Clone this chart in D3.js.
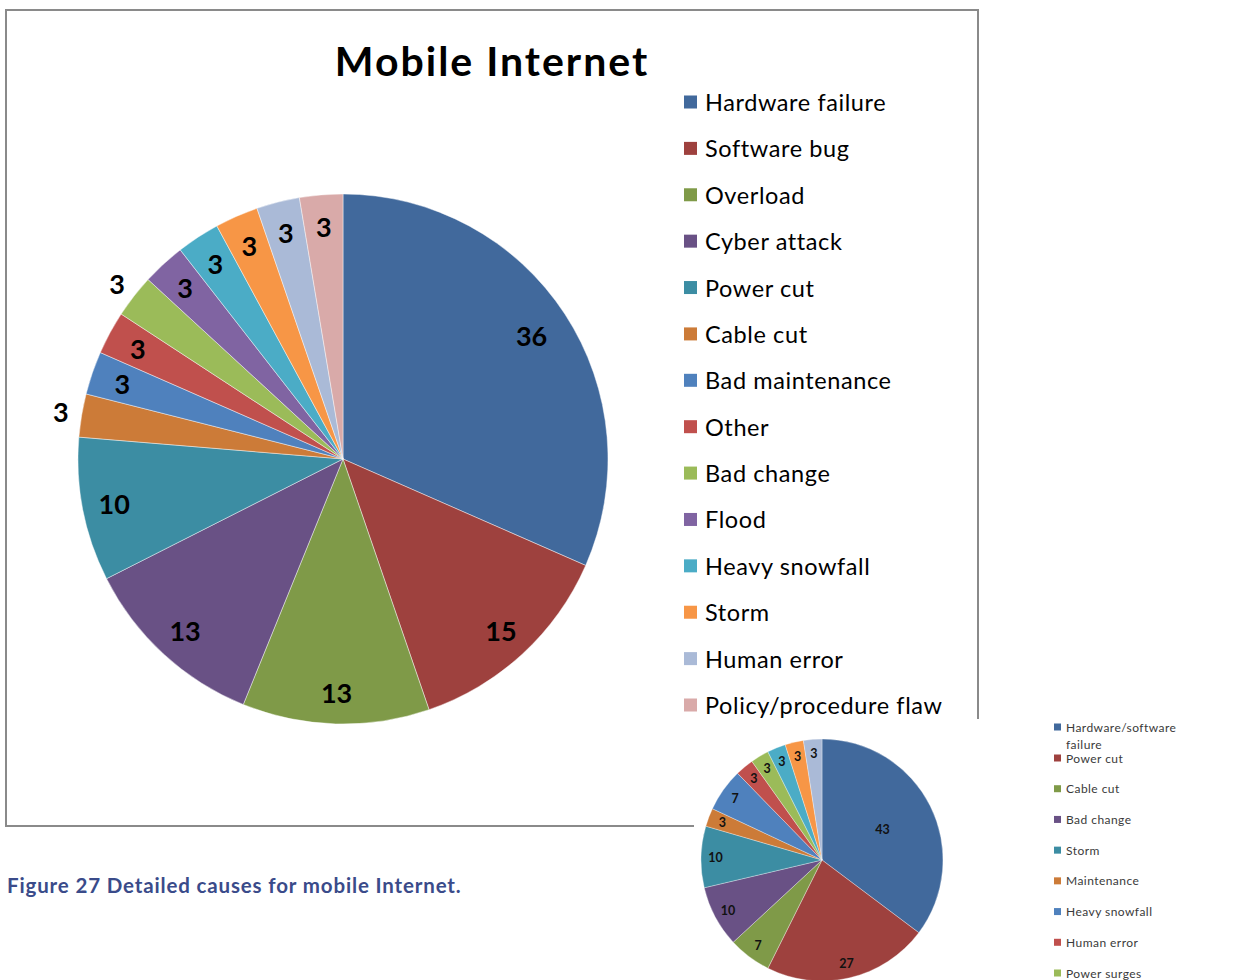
<!DOCTYPE html>
<html>
<head>
<meta charset="utf-8">
<script src="https://cdn.jsdelivr.net/npm/d3@7"></script>
<style>
  html, body { margin: 0; padding: 0; background: #fff; }
  svg { display: block; }
</style>
</head>
<body>
<svg id="chart" width="1244" height="980"></svg>
<script>
// Mobile Internet: incident counts per detailed cause
const mainCategories = ["Hardware failure", "Software bug", "Overload", "Cyber attack", "Power cut",
  "Cable cut", "Bad maintenance", "Other", "Bad change", "Flood", "Heavy snowfall", "Storm",
  "Human error", "Policy/procedure flaw"];
const mainValues = [36, 15, 13, 13, 10, 3, 3, 3, 3, 3, 3, 3, 3, 3];
const mainColors = ["#41699C", "#9E413E", "#7F9A48", "#695185", "#3C8DA3", "#CC7B38", "#4F81BD",
  "#C0504D", "#9BBB59", "#8064A2", "#4BACC6", "#F79646", "#AABAD7", "#D9AAA9"];

// Second, smaller breakdown (legend continues past the page edge)
const smallCategories = ["Hardware/software failure", "Power cut", "Cable cut", "Bad change", "Storm",
  "Maintenance", "Heavy snowfall", "Human error", "Power surges"];
const smallValues = [43, 27, 7, 10, 10, 3, 7, 3, 3, 3, 3, 3];
const smallColors = ["#41699C", "#9E413E", "#7F9A48", "#695185", "#3C8DA3", "#CC7B38", "#4F81BD",
  "#C0504D", "#9BBB59", "#4BACC6", "#F79646", "#AABAD7"];

const titleText = "Mobile Internet";
const captionText = "Figure 27 Detailed causes for mobile Internet.";

const svg = d3.select("#chart");
const FONT = "Lato, 'Open Sans', sans-serif";

// ---------- main chart frame ----------
svg.append("rect")
  .attr("x", 6).attr("y", 10).attr("width", 972).attr("height", 816)
  .attr("fill", "#fff").attr("stroke", "#8a8a8a").attr("stroke-width", 2);

svg.append("text")
  .attr("x", 492).attr("y", 76)
  .attr("text-anchor", "middle")
  .attr("font-family", FONT).attr("font-weight", 700).attr("font-size", 41)
  .attr("letter-spacing", 2)
  .attr("fill", "#000")
  .text(titleText);

// ---------- main pie ----------
const pie = d3.pie().sort(null).value(d => d.value);
const mainData = mainCategories.map((c, i) => ({ name: c, value: mainValues[i], color: mainColors[i] }));
const mainR = 265;
const mainG = svg.append("g").attr("transform", "translate(343,459)");
const mainArc = d3.arc().innerRadius(0).outerRadius(mainR);
const mainArcs = pie(mainData);

mainG.selectAll("path").data(mainArcs).join("path")
  .attr("d", mainArc)
  .attr("fill", d => d.data.color)
  .attr("stroke", "rgba(255,255,255,0.55)")
  .attr("stroke-width", 0.8);

// labels sit inside, except the two crowded slices which are pushed outside
const outsideLabels = new Set(["Cable cut", "Bad change"]);
mainG.selectAll("text").data(mainArcs).join("text")
  .attr("transform", d => {
    const f = outsideLabels.has(d.data.name) ? 1.08 : (d.index === 0 ? 0.85 : 0.88);
    const a = d3.arc().innerRadius(mainR * f).outerRadius(mainR * f);
    return `translate(${a.centroid(d)})`;
  })
  .attr("text-anchor", "middle")
  .attr("dominant-baseline", "central")
  .attr("font-family", FONT).attr("font-weight", 700).attr("font-size", 27)
  .attr("fill", "#000")
  .text(d => d.data.value);

// ---------- main legend ----------
const legY = d3.scaleLinear().domain([0, mainCategories.length - 1]).range([102, 705]);
const legG = svg.append("g");
const legItems = legG.selectAll("g").data(mainData).join("g")
  .attr("transform", (d, i) => `translate(684,${legY(i)})`);
legItems.append("rect")
  .attr("x", 0).attr("y", -6.5).attr("width", 13).attr("height", 13)
  .attr("fill", d => d.color);
legItems.append("text")
  .attr("x", 21).attr("y", 0)
  .attr("dominant-baseline", "central")
  .attr("font-family", FONT).attr("font-size", 23.5)
  .attr("letter-spacing", 0.6)
  .attr("fill", "#000")
  .text(d => d.name);

// ---------- second chart, pasted over the corner ----------
svg.append("rect")
  .attr("x", 694).attr("y", 719).attr("width", 550).attr("height", 261)
  .attr("fill", "#fff");

const smallData = smallValues.map((v, i) => ({ value: v, color: smallColors[i] }));
const smallR = 121;
const smallG = svg.append("g").attr("transform", "translate(822,860)");
const smallArc = d3.arc().innerRadius(0).outerRadius(smallR);
const smallArcs = pie(smallData);

smallG.selectAll("path").data(smallArcs).join("path")
  .attr("d", smallArc)
  .attr("fill", d => d.data.color)
  .attr("stroke", "rgba(255,255,255,0.55)")
  .attr("stroke-width", 0.6);

smallG.selectAll("text").data(smallArcs).join("text")
  .attr("transform", d => {
    const f = d.index === 0 ? 0.56 : 0.88;
    const a = d3.arc().innerRadius(smallR * f).outerRadius(smallR * f);
    return `translate(${a.centroid(d)})`;
  })
  .attr("text-anchor", "middle")
  .attr("dominant-baseline", "central")
  .attr("font-family", FONT).attr("font-weight", 700).attr("font-size", 12.5)
  .attr("fill", "#111")
  .text(d => d.data.value);

// small legend
const sLegY = d3.scaleLinear().domain([1, 8]).range([758, 973]);
const sLegG = svg.append("g");
smallCategories.forEach((name, i) => {
  const y = i === 0 ? 727 : sLegY(i);
  sLegG.append("rect")
    .attr("x", 1054).attr("y", y - 3.5).attr("width", 7).attr("height", 7)
    .attr("fill", smallColors[i]);
  const t = sLegG.append("text")
    .attr("x", 1066).attr("y", y)
    .attr("dominant-baseline", "central")
    .attr("font-family", FONT).attr("font-size", 12)
    .attr("letter-spacing", 0.45)
    .attr("fill", "#3a3a3a");
  if (i === 0) {
    t.append("tspan").attr("x", 1066).text("Hardware/software");
    t.append("tspan").attr("x", 1066).attr("dy", 17).text("failure");
  } else {
    t.text(name);
  }
});

// ---------- caption ----------
svg.append("text")
  .attr("x", 7).attr("y", 893)
  .attr("font-family", FONT).attr("font-weight", 700).attr("font-size", 20.5)
  .attr("letter-spacing", 0.85)
  .attr("fill", "#3A4B8A")
  .text(captionText);
</script>
</body>
</html>
